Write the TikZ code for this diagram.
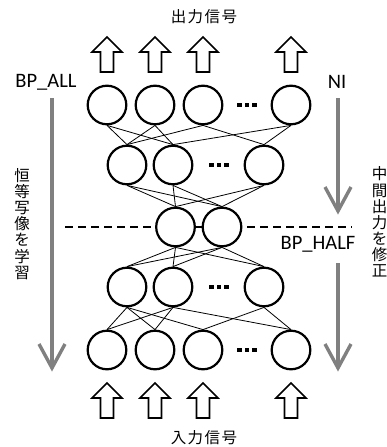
\documentclass[tikz,border=0pt]{standalone}
\usepackage{fontspec}
\setmainfont{Carlito}
\newfontfamily\jp{Noto Sans CJK JP}
\definecolor{flowgray}{RGB}{128,128,128}
\begin{document}
\begin{tikzpicture}[x=1pt,y=-1pt,
  neuron/.style={circle,draw,line width=2.2pt,minimum size=38.6pt,inner sep=0pt,fill=white},
  link/.style={line width=0.8pt},
  sig/.style={draw,line width=1.6pt,fill=white,line join=miter},
  flow/.style={draw=flowgray,line width=3.4pt},
  lbl/.style={font=\fontsize{20.5}{24}\selectfont,inner sep=0pt},
  jlbl/.style={font=\jp\fontsize{15.5}{16.1}\selectfont,inner sep=0pt,align=center},
  dotsq/.style={fill=black,minimum size=4.5pt,inner sep=0pt},
  uparrow/.pic={\path[sig] (0,0) -- (15,15) -- (6.5,15) -- (6.5,35) -- (-6.5,35) -- (-6.5,15) -- (-15,15) -- cycle;},
  vtip/.pic={\draw[flow,line join=miter] (-13,-24) -- (0,0) -- (13,-24);}
]
\useasboundingbox (0,0) rectangle (387,447);

% dashed split line behind the code layer
\coordinate (dashL) at (65,227);
\coordinate (dashR) at (352,227);
\draw[line width=1.3pt,dash pattern=on 8pt off 5pt] (dashL) -- (dashR);

% layers
\foreach \i/\x in {1/107,2/155,3/203,4/291} \node[neuron] (t\i) at (\x,105) {};
\foreach \i/\x in {1/127,2/173,3/264} \node[neuron] (s\i) at (\x,165) {};
\node[neuron] (m1) at (175.5,227) {};
\node[neuron] (m2) at (222,227) {};
\foreach \i/\x in {1/127,2/173,3/264} \node[neuron] (u\i) at (\x,287) {};
\foreach \i/\x in {1/107,2/155,3/203,4/291} \node[neuron] (b\i) at (\x,350) {};

% ellipsis dots
\foreach \n/\x/\y in {t/247/105,s/219/165,u/219/287,b/247/350}
  \foreach \k/\dx in {1/-7.5,2/0,3/7.5}
    \node[dotsq] (dot\n\k) at (\x+\dx,\y) {};

% connections
\foreach \a/\b in {t1/s1,t1/s2,t2/s1,t2/s2,t3/s1,t3/s3,t4/s2,t4/s3,
                   s1/m1,s1/m2,s2/m1,s2/m2,s3/m1,s3/m2,
                   m1/u1,m1/u2,m1/u3,m2/u1,m2/u2,m2/u3,
                   u1/b1,u1/b2,u1/b3,u2/b1,u2/b2,u2/b4,u3/b3,u3/b4}
  \draw[link] (\a.south) -- (\b.north);

% output and input signal arrows
\foreach \x in {107,155,203,291} {
  \pic at (\x,37) {uparrow};
  \pic at (\x,383) {uparrow};
}

% labels
\node[jlbl] (outlbl) at (204,17) {出\hspace{1.5pt}力\hspace{1.5pt}信\hspace{1.5pt}号};
\node[jlbl] (inlbl) at (204,438) {入\hspace{1.5pt}力\hspace{1.5pt}信\hspace{1.5pt}号};
\node[lbl] (bpall) at (46,82) {BP\_ALL};
\node[lbl] (ni) at (337,82) {NI};
\node[lbl] (bphalf) at (318,244) {BP\_HALF};
\node[jlbl] (learn) at (22,224) {恒\\等\\写\\像\\を\\学\\習};
\node[jlbl] (fix) at (379.5,222) {中\\間\\出\\力\\を\\修\\正};

% learning direction arrows
\coordinate (la) at (52,98);
\coordinate (lb) at (52,368);
\draw[flow] (la) -- (lb);
\pic at (lb) {vtip};
\coordinate (ra) at (338,98);
\coordinate (rb) at (338,211);
\coordinate (rc) at (338,263);
\coordinate (rd) at (338,368);
\draw[flow] (ra) -- (rb);
\pic at (rb) {vtip};
\draw[flow] (rc) -- (rd);
\pic at (rd) {vtip};
\end{tikzpicture}
\end{document}
